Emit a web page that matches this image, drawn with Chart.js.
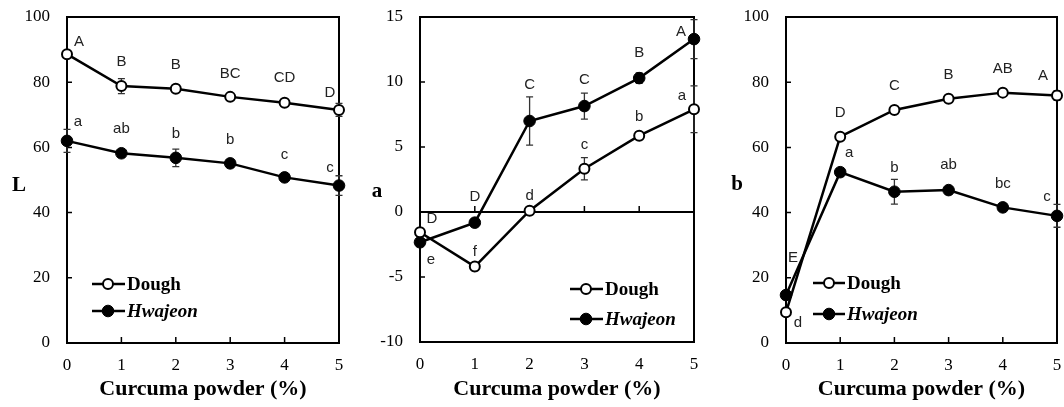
<!DOCTYPE html>
<html><head><meta charset="utf-8">
<script src="https://cdn.jsdelivr.net/npm/chart.js@4"></script>
<style>
html,body{margin:0;padding:0;background:#fff;}
#wrap{position:relative;width:1064px;height:407px;overflow:hidden;background:#fff;}
.pane{position:absolute;top:0;height:407px;}
</style></head><body>
<div id="wrap">
<div class="pane" style="left:0;width:355px"><canvas id="c1"></canvas></div>
<div class="pane" style="left:355px;width:355px"><canvas id="c2"></canvas></div>
<div class="pane" style="left:710px;width:354px"><canvas id="c3"></canvas></div>
</div>
<script>
// ---- data ----
const xValues = [0, 1, 2, 3, 4, 5];
const seriesNames = ['Dough', 'Hwajeon'];
const xTitle = 'Curcuma powder (%)';

const lTicks = [0, 20, 40, 60, 80, 100];
const lDough = [88.6, 78.8, 78.0, 75.5, 73.7, 71.5];
const lDoughErr = [1.0, 2.3, 1.0, 0.8, 0.8, 2.0];
const lHwajeon = [62.0, 58.2, 56.8, 55.1, 50.8, 48.3];
const lHwajeonErr = [3.5, 1.0, 2.7, 1.0, 1.0, 3.0];
const lDoughLetters = ['A', 'B', 'B', 'BC', 'CD', 'D'];
const lHwajeonLetters = ['a', 'ab', 'b', 'b', 'c', 'c'];

const aTicks = [-10, -5, 0, 5, 10, 15];
const aDough = [-1.56, -4.2, 0.1, 3.33, 5.87, 7.9];
const aDoughErr = [0.3, 0.3, 0.3, 0.86, 0.3, 1.8];
const aHwajeon = [-2.33, -0.82, 7.0, 8.15, 10.3, 13.3];
const aHwajeonErr = [0.3, 0.3, 1.85, 1.0, 0.4, 1.5];
const aDoughLetters = ['D', 'f', 'd', 'c', 'b', 'a'];
const aHwajeonLetters = ['e', 'D', 'C', 'C', 'B', 'A'];

const bTicks = [0, 20, 40, 60, 80, 100];
const bDough = [9.4, 63.3, 71.5, 74.9, 76.8, 75.9];
const bDoughErr = [1.0, 1.0, 1.0, 1.0, 1.0, 1.5];
const bHwajeon = [14.7, 52.4, 46.4, 46.9, 41.6, 39.0];
const bHwajeonErr = [1.0, 1.0, 3.8, 1.0, 1.0, 3.5];
const bDoughLetters = ['E', 'D', 'C', 'B', 'AB', 'A'];
const bHwajeonLetters = ['d', 'a', 'b', 'ab', 'bc', 'c'];

// ---- layout / style ----
const SERIF = "'Liberation Serif', 'Times New Roman', serif";
const SANS = "'Liberation Sans', Arial, sans-serif";

const deco = {
  id: 'deco',
  beforeDatasetsDraw(chart, args, o) {
    const ctx = chart.ctx, a = chart.chartArea;
    const xs = chart.scales.x, ys = chart.scales.y;
    ctx.save();
    ctx.strokeStyle = '#000';
    ctx.lineWidth = 2;
    ctx.strokeRect(a.left, a.top, a.right - a.left, a.bottom - a.top);
    ctx.lineWidth = 1.5;
    ctx.beginPath();
    ys.ticks.forEach(t => {
      if (t.value === ys.min || t.value === ys.max) return;
      const y = ys.getPixelForValue(t.value);
      ctx.moveTo(a.left, y); ctx.lineTo(a.left + o.tickLen, y);
    });
    const base = ys.getPixelForValue(o.xBase);
    xs.ticks.forEach(t => {
      if (t.value === xs.min || t.value === xs.max) return;
      const x = xs.getPixelForValue(t.value);
      ctx.moveTo(x, base); ctx.lineTo(x, base - o.tickLen - 1);
    });
    ctx.stroke();
    if (o.xBase !== ys.min) {
      ctx.lineWidth = 1.8;
      ctx.beginPath(); ctx.moveTo(a.left, base); ctx.lineTo(a.right, base); ctx.stroke();
    }
    // error bars
    ctx.lineWidth = 1.3;
    ctx.strokeStyle = '#333';
    chart.data.datasets.forEach((ds, i) => {
      const errs = o.errors[i];
      ds.data.forEach((p, j) => {
        const e = errs[j];
        const x = xs.getPixelForValue(p.x);
        const y1 = ys.getPixelForValue(p.y - e), y2 = ys.getPixelForValue(p.y + e);
        ctx.beginPath();
        ctx.moveTo(x, y1); ctx.lineTo(x, y2);
        ctx.moveTo(x - 3.5, y1); ctx.lineTo(x + 3.5, y1);
        ctx.moveTo(x - 3.5, y2); ctx.lineTo(x + 3.5, y2);
        ctx.stroke();
      });
    });
    ctx.restore();
  },
  afterDatasetsDraw(chart, args, o) {
    const ctx = chart.ctx;
    const xs = chart.scales.x, ys = chart.scales.y;
    ctx.save();
    // significance letters
    ctx.fillStyle = '#222';
    ctx.font = '15px ' + SANS;
    ctx.textAlign = 'center';
    ctx.textBaseline = 'middle';
    chart.data.datasets.forEach((ds, i) => {
      ds.data.forEach((p, j) => {
        const off = o.letterOffsets[i][j];
        ctx.fillText(o.letters[i][j], xs.getPixelForValue(p.x) + off[0], ys.getPixelForValue(p.y) + off[1]);
      });
    });
    // y title
    ctx.fillStyle = '#000';
    ctx.font = 'bold 21px ' + SERIF;
    ctx.textBaseline = 'alphabetic';
    ctx.fillText(o.yTitle, o.yTitlePos[0], o.yTitlePos[1]);
    // legend
    const lg = o.legend;
    chart.data.datasets.forEach((ds, i) => {
      const y = lg.ys[i];
      ctx.strokeStyle = '#000';
      ctx.lineWidth = 2.5;
      ctx.beginPath(); ctx.moveTo(lg.x1, y); ctx.lineTo(lg.x2, y); ctx.stroke();
      ctx.beginPath();
      ctx.arc(lg.cx, y, i === 0 ? 5 : 5.8, 0, Math.PI * 2);
      ctx.fillStyle = i === 0 ? '#fff' : '#000';
      ctx.fill();
      ctx.lineWidth = i === 0 ? 2 : 1;
      ctx.stroke();
      ctx.fillStyle = '#000';
      ctx.textAlign = 'left';
      ctx.textBaseline = 'middle';
      ctx.font = (i === 0 ? 'bold ' : 'italic bold ') + '19px ' + SERIF;
      ctx.fillText(ds.label, lg.tx, y + 1);
    });
    ctx.restore();
  }
};

function makeChart(id, cfg) {
  const toPts = arr => xValues.map((x, i) => ({ x: x, y: arr[i] }));
  const yT = cfg.ticks;
  return new Chart(document.getElementById(id), {
    type: 'line',
    data: {
      datasets: [
        { label: seriesNames[0], data: toPts(cfg.dough), borderColor: '#000', borderWidth: 2.5,
          pointRadius: 5, pointBorderWidth: 2, pointBackgroundColor: '#fff', pointBorderColor: '#000',
          tension: 0, clip: false },
        { label: seriesNames[1], data: toPts(cfg.hwajeon), borderColor: '#000', borderWidth: 2.5,
          pointRadius: 5.8, pointBorderWidth: 1, pointBackgroundColor: '#000', pointBorderColor: '#000',
          tension: 0, clip: false }
      ]
    },
    options: {
      responsive: true, maintainAspectRatio: false, animation: false,
      events: [],
      layout: { padding: { left: 0, right: cfg.padRight, top: 17, bottom: 0 } },
      scales: {
        x: {
          type: 'linear', min: xValues[0], max: xValues[xValues.length - 1],
          afterBuildTicks: s => { s.ticks = xValues.map(v => ({ value: v })); },
          afterFit: s => { s.height = cfg.xHeight; s.paddingLeft = 0; s.paddingRight = 0; },
          grid: { display: false, drawTicks: false },
          border: { display: false },
          ticks: { padding: 12, color: '#000', font: { family: SERIF, size: 17 }, maxRotation: 0 },
          title: { display: true, text: xTitle, color: '#000', font: { family: SERIF, size: 22, weight: 'bold' },
                   padding: { top: 0, bottom: 4 } }
        },
        y: {
          type: 'linear', min: yT[0], max: yT[yT.length - 1],
          afterBuildTicks: s => { s.ticks = yT.map(v => ({ value: v })); },
          afterFit: s => { s.width = cfg.yWidth; s.paddingTop = 0; s.paddingBottom = 0; },
          grid: { display: false, drawTicks: false },
          border: { display: false },
          ticks: { padding: 17, color: '#000', font: { family: SERIF, size: 17 } }
        }
      },
      plugins: {
        legend: { display: false },
        tooltip: { enabled: false },
        deco: {
          tickLen: 5,
          xBase: cfg.xBase,
          errors: [cfg.doughErr, cfg.hwajeonErr],
          letters: [cfg.doughLetters, cfg.hwajeonLetters],
          letterOffsets: cfg.letterOffsets,
          yTitle: cfg.yTitle, yTitlePos: cfg.yTitlePos,
          legend: cfg.legend
        }
      }
    },
    plugins: [deco]
  });
}

makeChart('c1', {
  ticks: lTicks, dough: lDough, hwajeon: lHwajeon, doughErr: lDoughErr, hwajeonErr: lHwajeonErr,
  doughLetters: lDoughLetters, hwajeonLetters: lHwajeonLetters, xBase: 0,
  padRight: 16, yWidth: 67, xHeight: 64,
  letterOffsets: [
    [[12, -12], [0, -24], [0, -24], [0, -23], [0, -25], [-9, -17]],
    [[11, -19], [0, -24], [0, -24], [0, -24], [0, -23], [-9, -18]]
  ],
  yTitle: 'L', yTitlePos: [19, 191],
  legend: { x1: 92, x2: 125, cx: 108, tx: 127, ys: [284, 311] }
});

makeChart('c2', {
  ticks: aTicks, dough: aDough, hwajeon: aHwajeon, doughErr: aDoughErr, hwajeonErr: aHwajeonErr,
  doughLetters: aDoughLetters, hwajeonLetters: aHwajeonLetters, xBase: 0,
  padRight: 16, yWidth: 65, xHeight: 65,
  letterOffsets: [
    [[12, -13], [0, -15], [0, -15], [0, -24], [0, -19], [-12, -13]],
    [[11, 18], [0, -26], [0, -36], [0, -26], [0, -25], [-13, -7]]
  ],
  yTitle: 'a', yTitlePos: [22, 197],
  legend: { x1: 215, x2: 248, cx: 231, tx: 250, ys: [289, 319] }
});

makeChart('c3', {
  ticks: bTicks, dough: bDough, hwajeon: bHwajeon, doughErr: bDoughErr, hwajeonErr: bHwajeonErr,
  doughLetters: bDoughLetters, hwajeonLetters: bHwajeonLetters, xBase: 0,
  padRight: 5, yWidth: 76, xHeight: 64,
  letterOffsets: [
    [[7, -54], [0, -24], [0, -24], [0, -24], [0, -24], [-14, -20]],
    [[12, 28], [9, -19], [0, -24], [0, -25], [0, -24], [-10, -19]]
  ],
  yTitle: 'b', yTitlePos: [27, 190],
  legend: { x1: 103, x2: 135, cx: 119, tx: 137, ys: [283, 314] }
});
</script>
</body></html>
